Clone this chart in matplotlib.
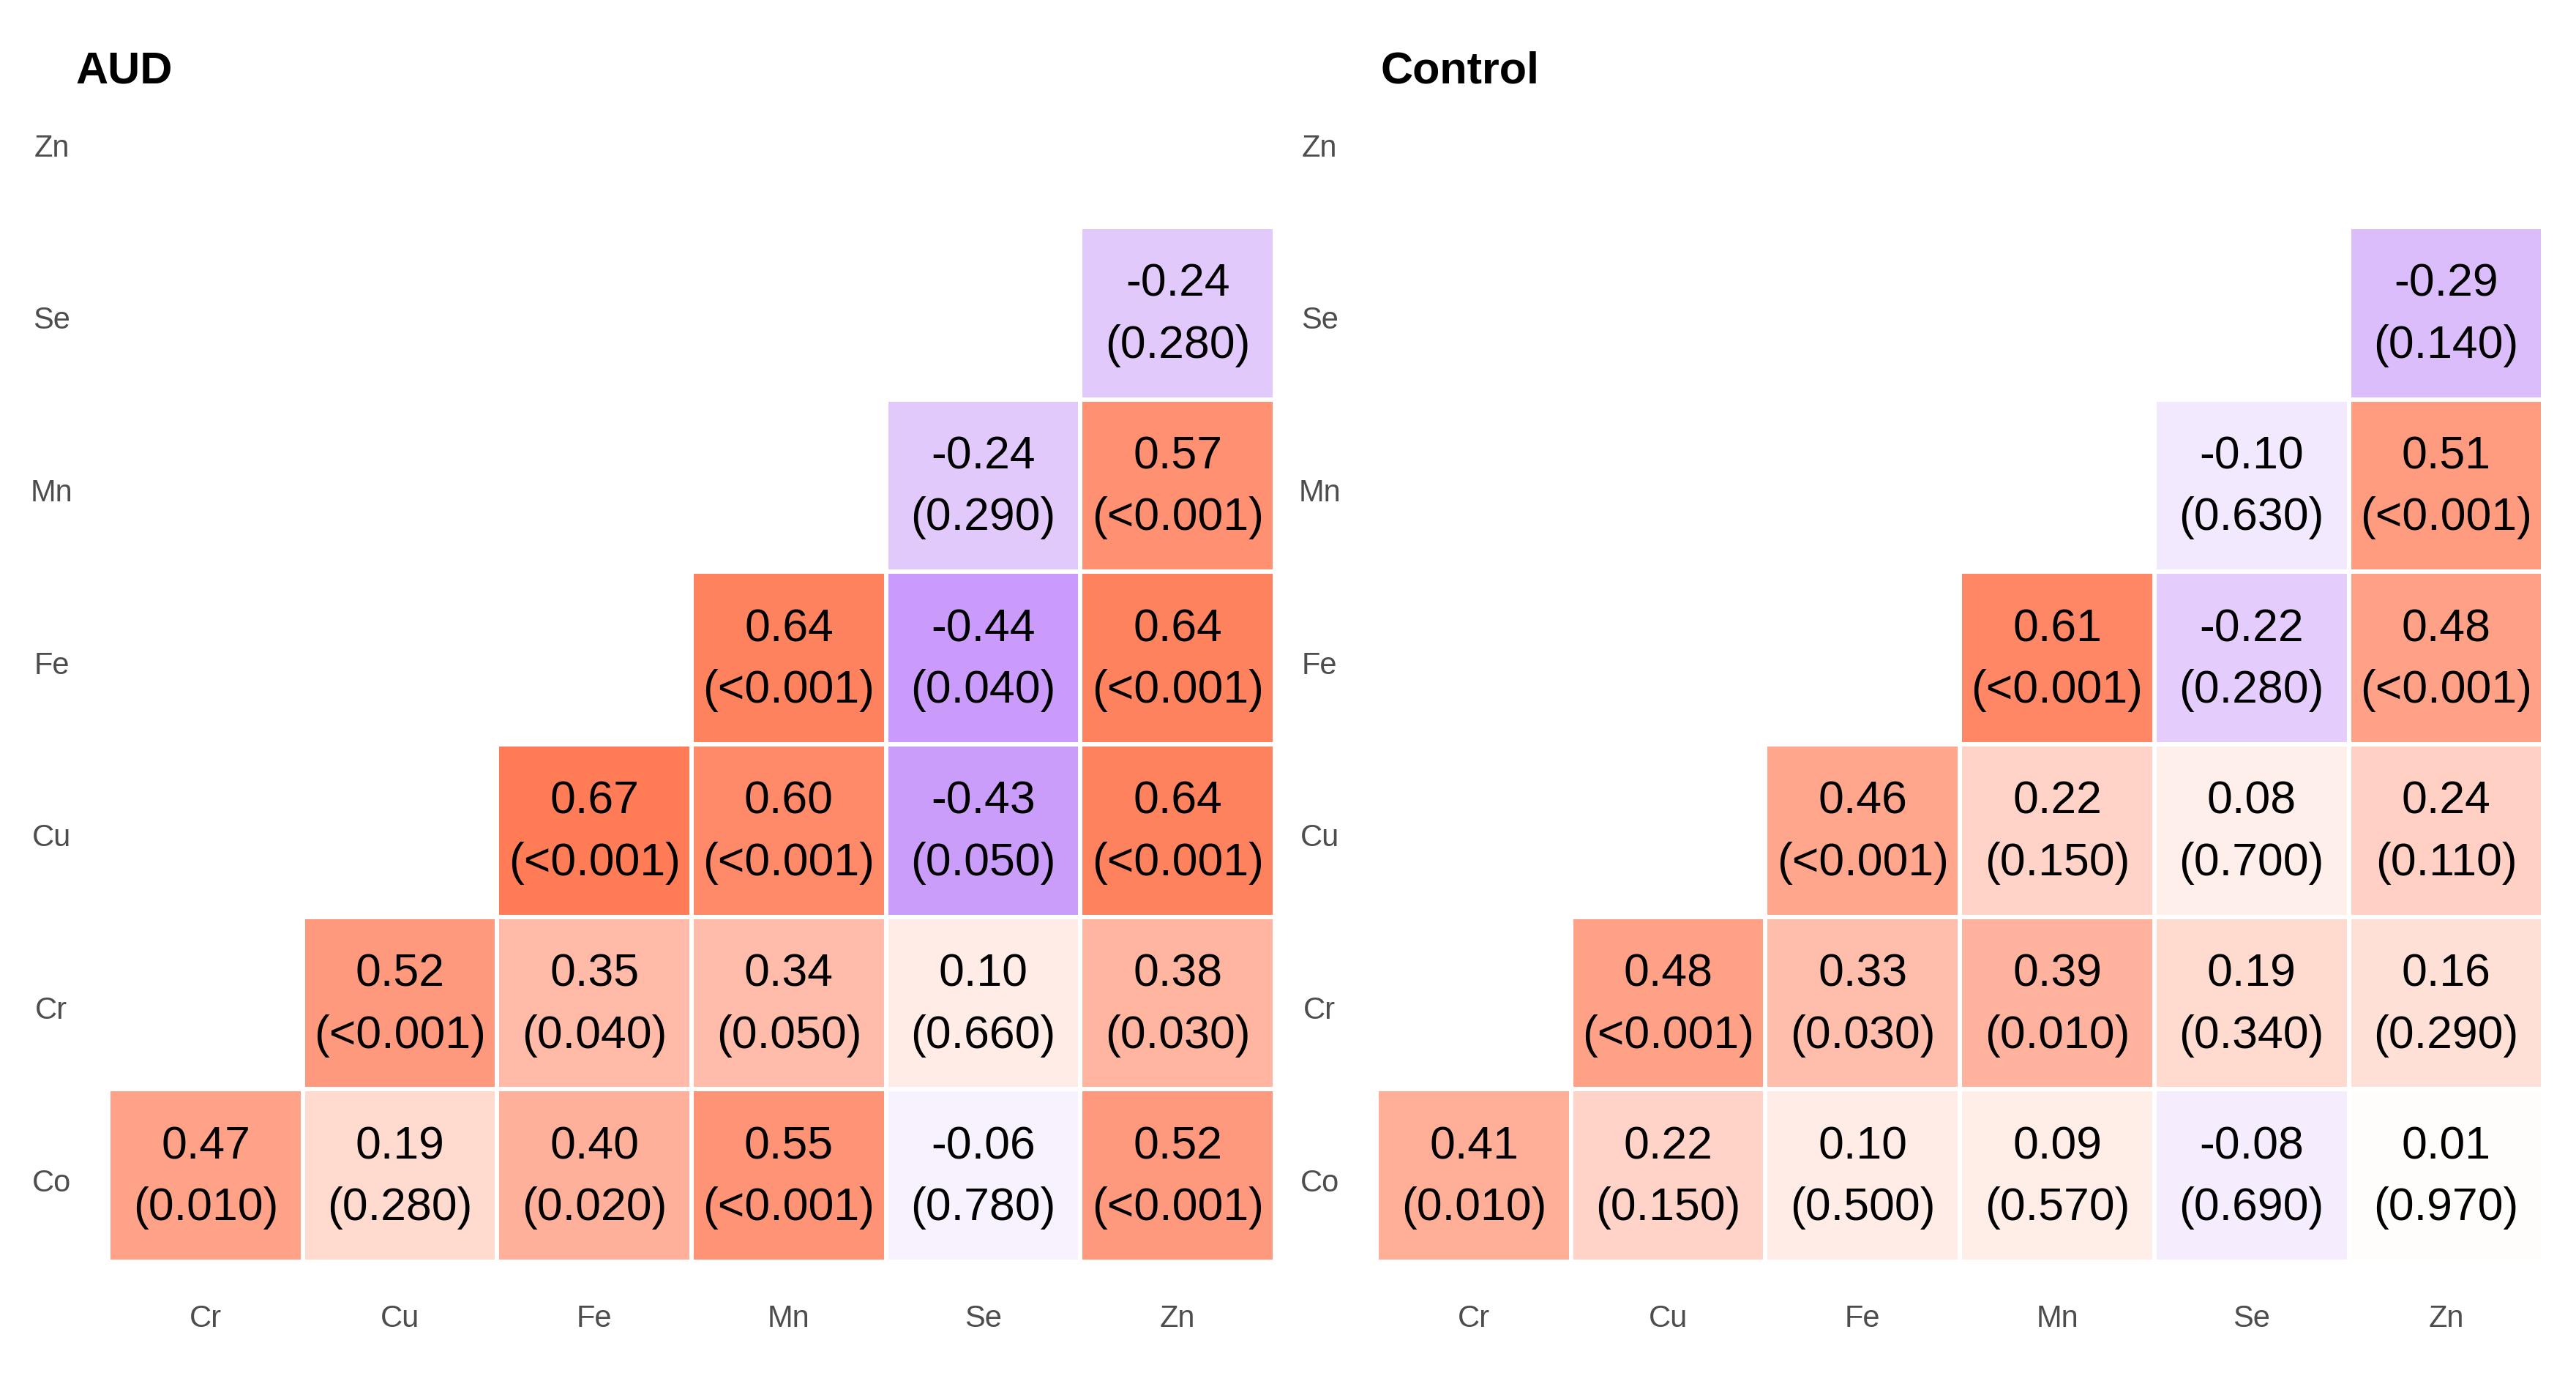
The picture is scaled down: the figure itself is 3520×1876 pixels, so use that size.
import numpy as np
import matplotlib
matplotlib.use("Agg")
import matplotlib.pyplot as plt
from matplotlib.colors import LinearSegmentedColormap, Normalize
from matplotlib.transforms import ScaledTranslation

plt.rcParams['font.family'] = ['Liberation Sans', 'DejaVu Sans']

# Configuration
COLS = ['Cr', 'Cu', 'Fe', 'Mn', 'Se', 'Zn']
ROWS = ['Co', 'Cr', 'Cu', 'Fe', 'Mn', 'Se', 'Zn']   # bottom to top
N = None

# correlation coefficients, one list per row (bottom -> top), one entry per column
aud_r = [
    [0.47, 0.19, 0.40, 0.55, -0.06, 0.52],
    [N, 0.52, 0.35, 0.34, 0.10, 0.38],
    [N, N, 0.67, 0.60, -0.43, 0.64],
    [N, N, N, 0.64, -0.44, 0.64],
    [N, N, N, N, -0.24, 0.57],
    [N, N, N, N, N, -0.24],
    [N, N, N, N, N, N],
]
aud_p = [
    ['0.010', '0.280', '0.020', '<0.001', '0.780', '<0.001'],
    [N, '<0.001', '0.040', '0.050', '0.660', '0.030'],
    [N, N, '<0.001', '<0.001', '0.050', '<0.001'],
    [N, N, N, '<0.001', '0.040', '<0.001'],
    [N, N, N, N, '0.290', '<0.001'],
    [N, N, N, N, N, '0.280'],
    [N, N, N, N, N, N],
]
control_r = [
    [0.41, 0.22, 0.10, 0.09, -0.08, 0.01],
    [N, 0.48, 0.33, 0.39, 0.19, 0.16],
    [N, N, 0.46, 0.22, 0.08, 0.24],
    [N, N, N, 0.61, -0.22, 0.48],
    [N, N, N, N, -0.10, 0.51],
    [N, N, N, N, N, -0.29],
    [N, N, N, N, N, N],
]
control_p = [
    ['0.010', '0.150', '0.500', '0.570', '0.690', '0.970'],
    [N, '<0.001', '0.030', '0.010', '0.340', '0.290'],
    [N, N, '<0.001', '0.150', '0.700', '0.110'],
    [N, N, N, '<0.001', '0.280', '<0.001'],
    [N, N, N, N, '0.630', '<0.001'],
    [N, N, N, N, N, '0.140'],
    [N, N, N, N, N, N],
]

CMAP = LinearSegmentedColormap.from_list('corr', ['#871EF4', '#FFFFFF', '#FF3C05'])
NORM = Normalize(vmin=-1, vmax=1)


def draw_panel(ax, r_vals, p_vals, title, title_x):
    data = np.array([[np.nan if v is None else v for v in row] for row in r_vals], dtype=float)
    masked = np.ma.masked_invalid(data)
    xe = np.arange(len(COLS) + 1) + 0.5
    ye = np.arange(len(ROWS) + 1) + 0.5
    ax.pcolormesh(xe, ye, masked, cmap=CMAP, norm=NORM,
                  edgecolors='white', linewidth=1.6)

    for i in range(len(ROWS)):
        for j in range(len(COLS)):
            v = r_vals[i][j]
            if v is None:
                continue
            ax.text(j + 1, i + 1 + 0.098, f"{v:.2f}", ha='center', va='baseline',
                    fontsize=22.5, color='black')
            ax.text(j + 1, i + 1 - 0.259, f"({p_vals[i][j]})", ha='center', va='baseline',
                    fontsize=22.5, color='black')

    ax.set_xlim(0.5, len(COLS) + 0.5)
    ax.set_ylim(0.5, len(ROWS) + 0.35)
    ax.set_xticks(np.arange(1, len(COLS) + 1))
    ax.set_xticklabels(COLS, va='center')
    ax.set_yticks(np.arange(1, len(ROWS) + 1))
    ax.set_yticklabels(ROWS, ha='center')
    ax.tick_params(axis='x', length=0, pad=28, labelsize=15, labelcolor='#4D4D4D')
    ax.tick_params(axis='y', length=0, pad=28, labelsize=15, labelcolor='#4D4D4D')
    # y labels sit a touch below the cell centres in the original
    shift = ScaledTranslation(0, -6 / 200, ax.figure.dpi_scale_trans)
    for lab in ax.get_yticklabels():
        lab.set_transform(lab.get_transform() + shift)
    for s in ax.spines.values():
        s.set_visible(False)

    ax.figure.text(title_x, 0.948, title, ha='left', va='center',
                   fontsize=22, fontweight='bold')


fig = plt.figure(figsize=(17.6, 9.38), dpi=200)
ax1 = fig.add_axes([0.0421, 0.0810, 0.4528, 0.8606])
ax2 = fig.add_axes([0.5344, 0.0810, 0.4529, 0.8606])

draw_panel(ax1, aud_r, aud_p, 'AUD', 0.0293)
draw_panel(ax2, control_r, control_p, 'Control', 0.5358)

fig.savefig('out.png', dpi=200)
